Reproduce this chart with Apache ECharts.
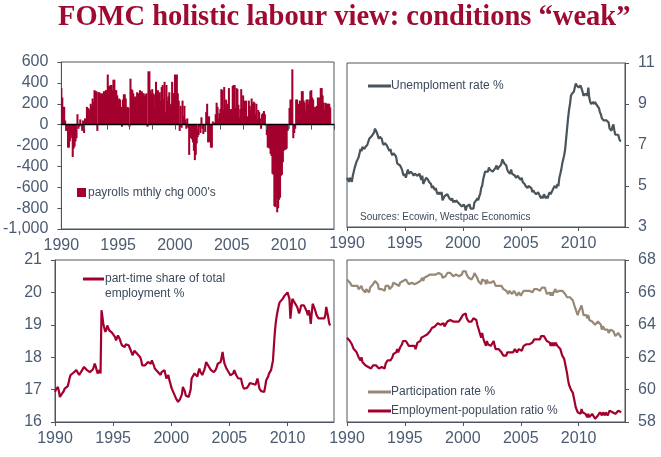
<!DOCTYPE html>
<html><head><meta charset="utf-8">
<script src="https://cdn.jsdelivr.net/npm/echarts@6/dist/echarts.min.js"></script>
<style>html,body{margin:0;padding:0;background:#fff}#c{width:661px;height:457px}</style>
</head><body><div id="c"></div>
<script>
// Monthly data, Jan 1990 - Sep 2013
const payrolls = [
 350,260,170,170,40,-60,-50,-220,-220,-160,-130,-100,
 -310,-230,-210,-160,-130,100,-40,-20,50,-10,-60,40,
 -80,60,40,170,160,150,130,200,180,250,220,330,
 320,320,-60,310,310,300,280,300,290,320,300,330,
 330,480,370,370,380,380,330,430,430,330,330,280,
 230,250,240,170,-20,240,290,290,250,160,170,160,
 -20,440,340,330,300,250,270,260,310,260,300,330,
 300,320,300,300,270,290,300,-20,510,510,330,300,
 340,300,150,290,410,300,330,280,310,230,360,380,
 250,410,120,380,230,270,310,180,200,410,300,300,
 480,120,480,300,230,-60,180,-30,230,80,180,50,
 -40,60,-30,-290,-60,-130,-140,-170,-250,-340,-290,-180,
 -120,-100,-20,-80,70,-40,-90,0,-70,120,200,-170,
 80,-170,-220,-220,30,0,20,100,210,170,60,110,
 150,340,330,140,360,160,240,140,200,350,130,150,
 140,370,380,380,160,350,340,190,70,150,340,160,
 280,230,200,230,30,80,230,180,140,250,200,220,
 210,100,200,60,140,120,60,-40,100,110,130,100,
 -10,-100,-220,-220,-230,-280,-300,-470,-480,-780,-790,-700,
 -840,-800,-720,-700,-490,-480,-360,-250,-240,-240,-230,-60,
 -40,160,240,240,530,-130,-80,-40,240,240,200,120,
 230,210,320,320,230,210,140,240,240,200,240,320,
 330,260,240,140,170,170,180,260,200,260,350,350,
 280,210,140,210,200,200,200,200,165
];
const unemployment = [
 5.4,5.3,5.2,5.4,5.4,5.2,5.5,5.7,5.9,5.9,6.2,6.3,
 6.4,6.6,6.8,6.7,6.9,6.9,6.8,6.9,6.9,7.0,7.0,7.3,
 7.3,7.4,7.4,7.4,7.6,7.8,7.7,7.6,7.6,7.3,7.4,7.4,
 7.3,7.1,7.0,7.1,7.1,7.0,6.9,6.8,6.7,6.8,6.6,6.5,
 6.6,6.6,6.5,6.4,6.1,6.1,6.1,6.0,5.9,5.8,5.6,5.5,
 5.6,5.4,5.4,5.8,5.6,5.6,5.7,5.7,5.6,5.5,5.6,5.6,
 5.6,5.5,5.5,5.6,5.6,5.3,5.5,5.1,5.2,5.2,5.4,5.4,
 5.3,5.2,5.2,5.1,4.9,5.0,4.9,4.8,4.9,4.7,4.6,4.7,
 4.6,4.6,4.7,4.3,4.4,4.5,4.5,4.5,4.6,4.5,4.4,4.4,
 4.3,4.4,4.2,4.3,4.2,4.3,4.3,4.2,4.2,4.1,4.1,4.0,
 4.0,4.1,4.0,3.8,4.0,4.0,4.0,4.1,3.9,3.9,3.9,3.9,
 4.2,4.2,4.3,4.4,4.3,4.5,4.6,4.9,5.0,5.3,5.5,5.7,
 5.7,5.7,5.7,5.9,5.8,5.8,5.8,5.7,5.7,5.7,5.9,6.0,
 5.8,5.9,5.9,6.0,6.1,6.3,6.2,6.1,6.1,6.0,5.8,5.7,
 5.7,5.6,5.8,5.6,5.6,5.6,5.5,5.4,5.4,5.5,5.4,5.4,
 5.3,5.4,5.2,5.2,5.1,5.0,5.0,4.9,5.0,5.0,5.0,4.9,
 4.7,4.8,4.7,4.7,4.6,4.6,4.7,4.7,4.5,4.4,4.5,4.4,
 4.6,4.5,4.4,4.5,4.4,4.6,4.7,4.6,4.7,4.7,4.7,5.0,
 5.0,4.9,5.1,5.0,5.4,5.6,5.8,6.1,6.1,6.5,6.8,7.3,
 7.8,8.3,8.7,9.0,9.4,9.5,9.5,9.6,9.8,10.0,9.9,9.9,
 9.8,9.8,9.9,9.9,9.6,9.4,9.4,9.5,9.5,9.4,9.8,9.3,
 9.1,9.0,9.0,9.1,9.0,9.1,9.0,9.0,9.0,8.8,8.6,8.5,
 8.3,8.3,8.2,8.2,8.2,8.2,8.2,8.1,7.8,7.8,7.7,7.9,
 8.0,7.7,7.5,7.5,7.5,7.5,7.3,7.2,7.2
];
const partTimeShare = [
 16.93,17.00,17.03,17.08,16.95,16.77,16.82,16.87,16.90,16.95,17.03,17.00,
 17.03,17.10,17.20,17.34,17.45,17.50,17.48,17.52,17.50,17.55,17.60,17.58,
 17.65,17.45,17.39,17.50,17.60,17.65,17.70,17.75,17.68,17.60,17.54,17.60,
 17.54,17.50,17.55,17.62,17.70,17.80,17.72,17.60,17.50,17.55,17.60,17.50,
 19.45,19.24,19.00,18.95,18.78,18.85,18.98,18.90,18.83,18.80,18.83,18.75,
 18.78,18.70,18.62,18.52,18.60,18.67,18.72,18.55,18.45,18.37,18.40,18.35,
 18.31,18.40,18.35,18.38,18.37,18.30,18.25,18.15,18.06,18.12,18.20,18.16,
 18.16,18.10,18.06,18.10,18.00,17.90,17.75,17.72,17.70,17.75,17.72,17.70,
 17.85,17.80,17.82,17.80,17.90,17.85,17.75,17.65,17.70,17.65,17.55,17.50,
 17.50,17.45,17.54,17.60,17.52,17.60,17.55,17.34,17.40,17.45,17.30,17.20,
 17.08,17.00,16.93,16.95,16.90,16.72,16.68,16.62,16.65,16.70,16.75,16.85,
 17.08,17.05,16.95,16.82,16.85,16.80,16.77,16.82,17.00,17.34,17.30,17.40,
 17.50,17.45,17.44,17.40,17.55,17.65,17.55,17.50,17.45,17.50,17.60,17.70,
 17.85,17.80,17.75,17.70,17.75,17.60,17.65,17.55,17.54,17.50,17.62,17.70,
 17.80,17.85,17.80,17.85,18.00,18.16,17.95,17.80,17.75,17.65,17.60,17.55,
 17.50,17.44,17.40,17.44,17.50,17.60,17.55,17.45,17.39,17.35,17.38,17.34,
 17.34,17.20,17.10,17.03,17.00,16.98,17.05,17.10,17.13,17.20,17.18,17.15,
 17.18,17.20,17.23,17.15,17.25,17.34,17.20,17.03,17.00,16.95,16.93,16.90,
 16.93,17.10,17.29,17.35,17.40,17.50,17.55,17.60,17.65,17.90,18.37,18.80,
 19.09,19.30,19.45,19.60,19.70,19.72,19.76,19.80,19.85,19.90,19.96,19.95,
 20.00,19.90,19.80,19.19,19.50,19.80,19.75,19.70,19.65,19.70,19.55,19.45,
 19.35,19.45,19.60,19.55,19.65,19.60,19.65,19.55,19.40,19.30,19.45,19.30,
 19.03,19.35,19.65,19.60,19.50,19.45,19.30,19.24,19.20,19.25,19.19,19.20,
 19.19,19.24,19.20,19.30,19.55,19.50,19.24,19.05,18.98
];
const participation = [
 66.8,66.7,66.7,66.6,66.6,66.4,66.5,66.5,66.4,66.4,66.4,66.4,
 66.2,66.2,66.3,66.4,66.2,66.2,66.1,66.0,66.2,66.1,66.1,66.0,
 66.3,66.2,66.4,66.5,66.6,66.7,66.7,66.6,66.5,66.2,66.3,66.3,
 66.2,66.2,66.2,66.1,66.4,66.5,66.4,66.4,66.2,66.3,66.3,66.4,
 66.6,66.6,66.5,66.5,66.6,66.4,66.4,66.6,66.6,66.7,66.7,66.7,
 66.8,66.8,66.7,66.9,66.5,66.5,66.6,66.6,66.6,66.6,66.5,66.4,
 66.4,66.6,66.6,66.7,66.7,66.7,66.9,66.7,66.9,67.0,67.0,67.0,
 67.0,66.9,67.1,67.1,67.1,67.1,67.2,67.2,67.1,67.1,67.2,67.2,
 67.1,67.1,67.1,66.9,66.9,67.0,67.0,67.0,67.2,67.1,67.1,67.2,
 67.2,67.2,67.0,67.1,67.1,67.1,67.0,67.0,67.0,67.0,67.0,67.1,
 67.3,67.3,67.3,67.3,67.1,67.1,66.9,66.9,66.9,66.8,66.9,67.0,
 67.2,67.1,67.2,66.9,66.7,66.7,66.8,66.5,66.8,66.7,66.7,66.7,
 66.5,66.8,66.6,66.7,66.7,66.6,66.5,66.6,66.7,66.6,66.4,66.3,
 66.4,66.4,66.3,66.4,66.4,66.5,66.2,66.1,66.1,66.1,66.1,65.9,
 66.1,66.0,66.0,65.9,66.0,66.1,66.1,66.0,65.8,65.9,66.0,65.9,
 65.8,65.9,65.9,66.1,66.1,66.1,66.1,66.2,66.1,66.1,66.0,66.0,
 66.0,66.1,66.2,66.1,66.1,66.2,66.1,66.2,66.1,66.2,66.3,66.4,
 66.4,66.3,66.2,65.9,66.0,66.0,66.0,65.8,66.0,65.8,66.0,66.0,
 66.2,66.0,66.1,65.9,66.1,66.1,66.1,66.1,66.0,66.0,65.9,65.8,
 65.7,65.8,65.6,65.7,65.7,65.7,65.5,65.4,65.1,65.0,65.0,64.6,
 64.8,64.9,64.9,65.2,64.9,64.6,64.6,64.7,64.6,64.4,64.6,64.3,
 64.2,64.2,64.2,64.2,64.1,64.0,64.0,64.1,64.2,64.1,64.1,64.0,
 63.7,63.9,63.8,63.7,63.8,63.8,63.7,63.5,63.6,63.7,63.6,63.6,
 63.6,63.5,63.3,63.4,63.4,63.5,63.4,63.3,63.2
];
const empPopRatio = [
 63.2,63.2,63.2,63.0,62.9,62.8,62.7,62.5,62.5,62.4,62.3,62.2,
 62.0,61.9,61.8,62.0,61.7,61.7,61.6,61.5,61.6,61.5,61.4,61.3,
 61.5,61.3,61.4,61.5,61.4,61.4,61.5,61.5,61.4,61.3,61.3,61.3,
 61.4,61.4,61.5,61.3,61.6,61.7,61.8,61.8,61.7,61.8,61.9,62.0,
 62.2,62.2,62.1,62.3,62.5,62.3,62.3,62.6,62.6,62.8,63.0,63.0,
 63.0,63.0,62.9,62.9,62.7,62.7,62.7,62.7,62.8,62.7,62.7,62.5,
 62.7,62.9,62.9,62.9,63.0,63.2,63.2,63.3,63.3,63.4,63.4,63.4,
 63.4,63.4,63.6,63.7,63.8,63.7,63.9,63.9,63.8,63.9,64.1,64.0,
 64.0,64.0,63.9,64.0,64.1,63.9,63.9,63.8,64.2,64.1,64.1,64.3,
 64.4,64.2,64.2,64.2,64.3,64.2,64.2,64.2,64.2,64.3,64.4,64.4,
 64.6,64.6,64.6,64.7,64.4,64.5,64.2,64.2,64.2,64.2,64.3,64.4,
 64.4,64.3,64.3,64.0,63.8,63.7,63.7,63.2,63.5,63.2,63.0,62.9,
 62.7,63.0,62.8,62.7,62.9,62.7,62.7,62.7,63.0,62.7,62.5,62.4,
 62.5,62.5,62.4,62.4,62.3,62.3,62.1,62.1,62.0,62.1,62.3,62.2,
 62.3,62.3,62.2,62.3,62.3,62.4,62.5,62.4,62.3,62.3,62.5,62.4,
 62.4,62.4,62.4,62.7,62.8,62.7,62.8,62.9,62.8,62.8,62.7,62.8,
 62.9,63.0,63.1,63.0,63.1,63.1,63.0,63.1,63.1,63.3,63.3,63.4,
 63.3,63.3,63.3,63.0,63.0,63.0,62.9,62.7,62.9,62.7,62.9,62.7,
 62.9,62.8,62.7,62.7,62.6,62.5,62.4,62.1,62.1,61.9,61.6,61.3,
 61.0,60.6,60.3,60.2,60.0,59.9,59.8,59.5,59.2,58.9,59.0,58.6,
 58.5,58.6,58.5,58.8,58.6,58.5,58.5,58.5,58.5,58.3,58.5,58.3,
 58.4,58.4,58.5,58.4,58.4,58.2,58.2,58.3,58.4,58.4,58.6,58.6,
 58.4,58.6,58.5,58.4,58.6,58.6,58.4,58.4,58.7,58.8,58.7,58.6,
 58.6,58.6,58.5,58.6,58.6,58.7,58.7,58.6,58.6
];
const firstYear = 1990, lastYear = 2013;

// month categories Jan 1990 .. Jan 2014 (axis end)
const months = [];
for (let y = firstYear; y <= lastYear; y++) for (let m = 1; m <= 12; m++) months.push(y + '-' + (m < 10 ? '0' + m : m));
months.push((lastYear + 1) + '-01');

const RED = '#a3002e', SLATE = '#4a545b', TAUPE = '#978878';
const AXIS = '#4d5660', LBL = '#4a5b72', TXT = '#3d4a5c';
const SANS = '"Liberation Sans", Arial, sans-serif';

function xLabelAxis(gi, tickEvery) {
  return {
    type: 'category', gridIndex: gi, data: months, boundaryGap: false, position: 'bottom',
    axisLine: { onZero: false, lineStyle: { color: AXIS, width: 1 } },
    axisTick: { show: tickEvery > 0, interval: (i) => i % tickEvery === 0, length: 4, lineStyle: { color: AXIS } },
    axisLabel: { interval: (i) => i % 60 === 0, formatter: (v) => v.slice(0, 4), color: LBL, fontSize: 16, fontFamily: SANS, margin: 9 },
    splitLine: { show: false }
  };
}
function yAxis(gi, min, max, step, pos) {
  return {
    type: 'value', gridIndex: gi, min: min, max: max, interval: step, position: pos,
    axisLine: { show: true, lineStyle: { color: AXIS } },
    axisTick: { show: true, length: 4, lineStyle: { color: AXIS } },
    axisLabel: { color: LBL, fontSize: 16, fontFamily: SANS, margin: 13 },
    splitLine: { show: false }
  };
}
const gridBase = { show: true, borderColor: AXIS, borderWidth: 1, backgroundColor: 'transparent', containLabel: false };

const zeroAxis = {
  type: 'category', gridIndex: 0, data: months, boundaryGap: false, position: 'bottom', z: 10,
  axisLine: { onZero: true, onZeroAxisIndex: 0, lineStyle: { color: '#000', width: 1.3 } },
  axisTick: { show: true, interval: (i) => i % 24 === 0, length: 5, lineStyle: { color: AXIS } },
  axisLabel: { show: false }, splitLine: { show: false }
};
const lab0 = xLabelAxis(0, 0);

// monthly bars drawn through the axis scales (slightly widened so neighbouring months touch)
function renderPayrollBar(params, api) {
  const base = api.coord([api.value(0), 0]);
  const tip = api.coord([api.value(0), api.value(1)]);
  const w = api.size([1, 0])[0] + 1.1;
  return {
    type: 'rect',
    shape: { x: base[0] - w / 2, y: Math.min(base[1], tip[1]), width: w, height: Math.abs(tip[1] - base[1]) },
    style: { fill: RED }
  };
}

const option = {
  animation: false,
  title: {
    text: 'FOMC holistic labour view: conditions \u201cweak\u201d',
    left: 58, top: 3, padding: 0,
    textStyle: { color: '#9e0a30', fontFamily: '"Liberation Serif", "Times New Roman", serif', fontWeight: 'bold', fontSize: 28.5 }
  },
  grid: [
    Object.assign({ left: 55, top: 62, width: 279, height: 167 }, gridBase),
    Object.assign({ left: 347, top: 63, width: 278, height: 164 }, gridBase),
    Object.assign({ left: 55, top: 260, width: 279, height: 162 }, gridBase),
    Object.assign({ left: 347, top: 260, width: 278, height: 162 }, gridBase)
  ],
  xAxis: [lab0, zeroAxis, xLabelAxis(1, 60), xLabelAxis(2, 60), xLabelAxis(3, 60)],
  yAxis: [
    yAxis(0, -1000, 600, 200, 'left'),
    yAxis(1, 3, 11, 2, 'right'),
    yAxis(2, 16, 21, 1, 'left'),
    yAxis(3, 58, 68, 2, 'right')
  ],
  series: [
    { name: "payrolls mthly chg 000's", type: 'custom', xAxisIndex: 0, yAxisIndex: 0, renderItem: renderPayrollBar,
      data: payrolls.map((v, i) => [i, v]), encode: { x: 0, y: 1 }, clip: true, silent: true },
    { name: 'Unemploment rate %', type: 'line', xAxisIndex: 2, yAxisIndex: 1, data: unemployment, showSymbol: false, lineStyle: { color: SLATE, width: 2.2 }, itemStyle: { color: SLATE } },
    { name: 'part-time share of total employment %', type: 'line', xAxisIndex: 3, yAxisIndex: 2, data: partTimeShare, showSymbol: false, lineStyle: { color: RED, width: 2.2 }, itemStyle: { color: RED } },
    { name: 'Participation rate %', type: 'line', xAxisIndex: 4, yAxisIndex: 3, data: participation, showSymbol: false, lineStyle: { color: TAUPE, width: 2.2 }, itemStyle: { color: TAUPE } },
    { name: 'Employment-population ratio %', type: 'line', xAxisIndex: 4, yAxisIndex: 3, data: empPopRatio, showSymbol: false, lineStyle: { color: RED, width: 2.2 }, itemStyle: { color: RED } }
  ],
  graphic: [
    { type: 'rect', shape: { x: 77, y: 188, width: 9, height: 9 }, style: { fill: RED } },
    { type: 'text', x: 88, y: 193, style: { text: "payrolls mthly chg 000's", fill: TXT, font: '12px ' + SANS, verticalAlign: 'middle' } },
    { type: 'line', shape: { x1: 368, y1: 86, x2: 391, y2: 86 }, style: { stroke: SLATE, lineWidth: 3 } },
    { type: 'text', x: 391, y: 86, style: { text: 'Unemploment rate %', fill: TXT, font: '12px ' + SANS, verticalAlign: 'middle' } },
    { type: 'text', x: 360, y: 217, style: { text: 'Sources: Ecowin, Westpac Economics', fill: TXT, font: '10px ' + SANS, verticalAlign: 'middle' } },
    { type: 'line', shape: { x1: 83, y1: 279, x2: 104, y2: 279 }, style: { stroke: RED, lineWidth: 3 } },
    { type: 'text', x: 105, y: 279, style: { text: 'part-time share of total', fill: TXT, font: '12px ' + SANS, verticalAlign: 'middle' } },
    { type: 'text', x: 105, y: 294, style: { text: 'employment %', fill: TXT, font: '12px ' + SANS, verticalAlign: 'middle' } },
    { type: 'line', shape: { x1: 368, y1: 392, x2: 391, y2: 392 }, style: { stroke: TAUPE, lineWidth: 3 } },
    { type: 'text', x: 391, y: 392, style: { text: 'Participation rate %', fill: TXT, font: '12px ' + SANS, verticalAlign: 'middle' } },
    { type: 'line', shape: { x1: 368, y1: 411, x2: 391, y2: 411 }, style: { stroke: RED, lineWidth: 3 } },
    { type: 'text', x: 391, y: 411, style: { text: 'Employment-population ratio %', fill: TXT, font: '12px ' + SANS, verticalAlign: 'middle' } }
  ]
};
const chart = echarts.init(document.getElementById('c'), null, { renderer: 'canvas', width: 661, height: 457 });
chart.setOption(option);
</script></body></html>
